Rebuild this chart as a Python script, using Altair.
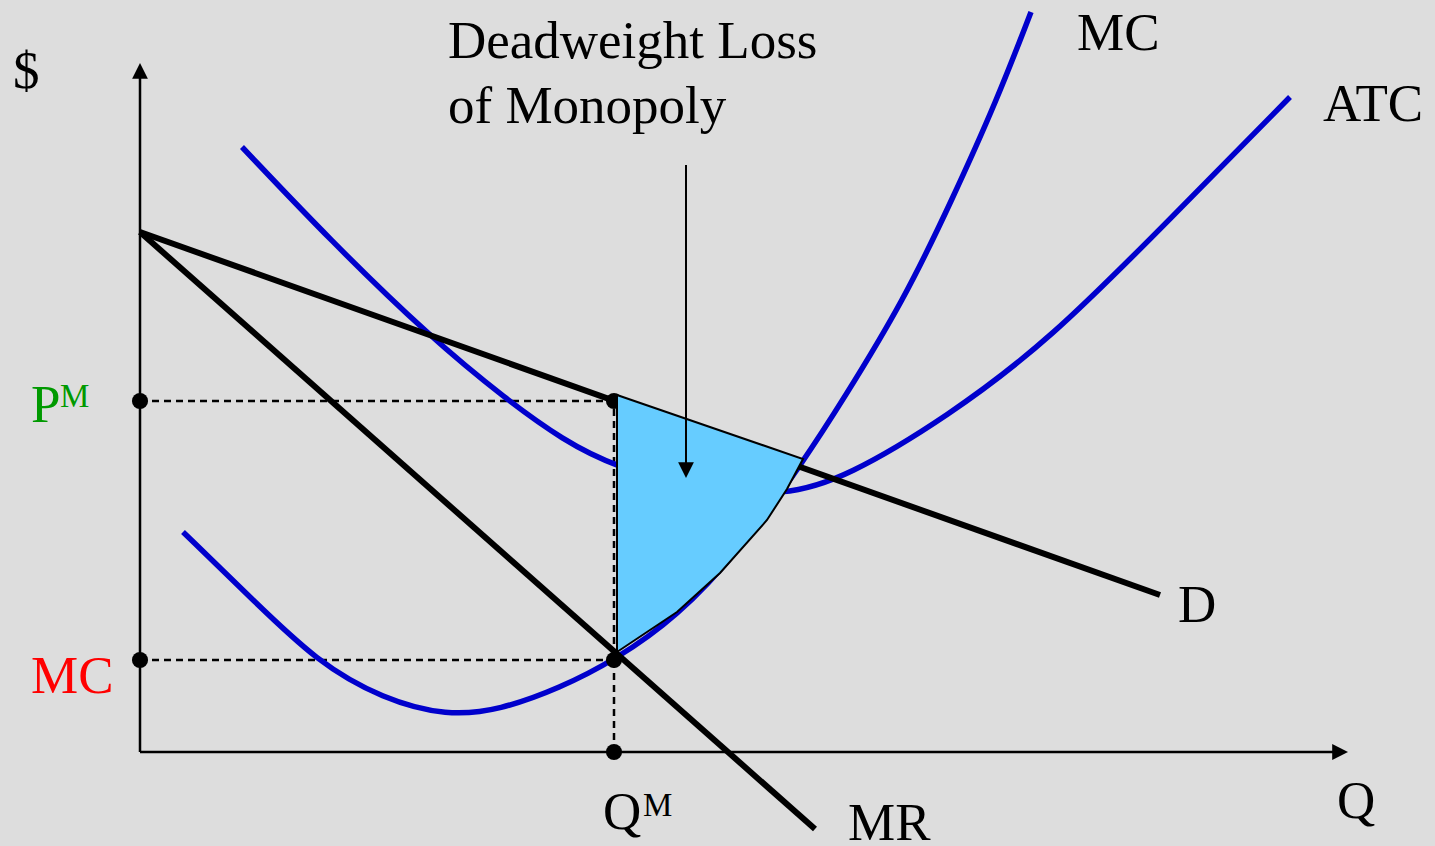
import altair as alt
import pandas as pd

# Quantity (Q) and price ($) readings for each curve
mc_q = [4.3, 11.0, 17.7, 24.3, 30.7, 36.0, 42.0, 47.5, 53.7, 60.0, 66.3, 70.3, 76.4, 81.2, 85.7, 89.1]
mc_p = [22.0, 15.5, 9.0, 5.3, 3.6, 4.2, 6.4, 9.2, 13.5, 20.2, 29.0, 35.2, 45.2, 55.2, 65.2, 74.0]

atc_q = [10.2, 19.0, 29.0, 36.7, 42.3, 47.5, 56.0, 64.5, 70.7, 80.7, 91.0, 103.0, 115.0]
atc_p = [60.5, 51.2, 41.5, 35.2, 31.2, 28.5, 26.2, 25.6, 27.5, 33.5, 41.2, 53.3, 65.5]

demand_q = [0.0, 102.0]
demand_p = [52.0, 15.7]

mr_q = [0.0, 67.5]
mr_p = [52.0, -7.7]

# Deadweight-loss region, traced as a closed outline
dwl_q = [47.7, 66.3, 64.7, 62.7, 58.0, 53.7, 47.7, 47.7]
dwl_p = [35.7, 29.3, 26.3, 23.2, 17.9, 14.0, 10.0, 35.7]

# Monopoly outcome
q_m = 47.4
p_m = 35.1
mc_m = 9.2

# Axis extents and the annotation arrow
y_axis_top = 68.2
x_axis_end = 119.5
arrow_q = 54.6
arrow_from = 58.7
arrow_to = 28.2
arrow_tip = 27.4

label_text = ["Deadweight Loss", "of Monopoly", "MC", "ATC", "D", "MR", "Q", "Q", "M",
              "$", "P", "M", "MC"]
label_q = [30.8, 30.8, 93.7, 118.3, 103.8, 70.8, 119.7, 46.3, 50.3, -12.7, -10.9, -8.0, -10.9]
label_p = [69.4, 62.9, 70.2, 63.1, 13.0, -8.8, -6.6, -7.7, -6.4, 66.4, 33.0, 34.5, 5.9]
label_size = [53, 53, 53, 53, 53, 53, 53, 53, 33, 53, 53, 33, 53]
label_color = ["black", "black", "black", "black", "black", "black", "black", "black", "black",
               "black", "#009900", "#009900", "#ff0000"]

BLUE = "#0000cc"
FONT = "Liberation Serif"

xs = alt.Scale(domain=[-14, 129.5], nice=False, zero=False)
ys = alt.Scale(domain=[-9.4, 75.2], nice=False, zero=False)


def X(field):
    return alt.X(field, type="quantitative", scale=xs, axis=None)


def Y(field):
    return alt.Y(field, type="quantitative", scale=ys, axis=None)


def curve_frame(name, qs, ps):
    return pd.DataFrame({"curve": name, "q": qs, "p": ps, "i": range(len(qs))})


cost_df = pd.concat([curve_frame("MC", mc_q, mc_p), curve_frame("ATC", atc_q, atc_p)])
rev_df = pd.concat([curve_frame("D", demand_q, demand_p), curve_frame("MR", mr_q, mr_p)])
dwl_df = curve_frame("DWL", dwl_q, dwl_p)

guide_df = pd.DataFrame({
    "q": [0.0, 0.0, q_m],
    "p": [p_m, mc_m, 0.0],
    "q2": [q_m, q_m, q_m],
    "p2": [p_m, mc_m, p_m],
})
axis_df = pd.DataFrame({
    "q": [0.0, 0.0],
    "p": [0.0, 0.0],
    "q2": [0.0, x_axis_end],
    "p2": [y_axis_top, 0.0],
})
arrow_df = pd.DataFrame({"q": [arrow_q], "p": [arrow_from], "q2": [arrow_q], "p2": [arrow_to]})
heads_df = pd.DataFrame({
    "q": [0.0, x_axis_end + 1.3, arrow_q],
    "p": [y_axis_top + 0.7, 0.0, arrow_tip],
    "shape": ["M0,0L0.5,1L-0.5,1Z", "M0,0L-1,0.5L-1,-0.5Z", "M0,0L0.5,-1L-0.5,-1Z"],
})
dots_df = pd.DataFrame({
    "q": [0.0, q_m, 0.0, q_m, q_m],
    "p": [p_m, p_m, mc_m, mc_m, 0.0],
})
labels_df = pd.DataFrame({
    "text": label_text, "q": label_q, "p": label_p,
    "size": label_size, "color": label_color,
})

guides = alt.Chart(guide_df).mark_rule(
    color="black", strokeWidth=2.5, strokeDash=[7, 5]
).encode(x=X("q"), y=Y("p"), x2="q2", y2="p2")

axes = alt.Chart(axis_df).mark_rule(color="black", strokeWidth=2.5).encode(
    x=X("q"), y=Y("p"), x2="q2", y2="p2"
)

cost = alt.Chart(cost_df).mark_line(
    color=BLUE, strokeWidth=5.5, interpolate="basis"
).encode(x=X("q"), y=Y("p"), detail="curve:N", order="i:Q")

revenue = alt.Chart(rev_df).mark_line(color="black", strokeWidth=6).encode(
    x=X("q"), y=Y("p"), detail="curve:N", order="i:Q"
)

dots = alt.Chart(dots_df).mark_circle(color="black", size=260, opacity=1).encode(
    x=X("q"), y=Y("p")
)

dwl = alt.Chart(dwl_df).mark_line(
    fill="#66ccff", stroke="black", strokeWidth=2, strokeJoin="miter"
).encode(x=X("q"), y=Y("p"), order="i:Q")

arrow = alt.Chart(arrow_df).mark_rule(color="black", strokeWidth=2).encode(
    x=X("q"), y=Y("p"), x2="q2", y2="p2"
)

heads = alt.Chart(heads_df).mark_point(
    filled=True, color="black", opacity=1, size=1000, strokeWidth=0
).encode(x=X("q"), y=Y("p"), shape=alt.Shape("shape:N", scale=None))

labels = alt.Chart(labels_df).mark_text(
    font=FONT, align="left", baseline="alphabetic"
).encode(
    x=X("q"), y=Y("p"), text="text:N",
    size=alt.Size("size:Q", scale=None),
    color=alt.Color("color:N", scale=None),
)

chart = alt.layer(
    guides, cost, revenue, axes, dots, dwl, arrow, heads, labels
).properties(
    width=1435, height=846, background="#dddddd", padding=0,
    autosize=alt.AutoSizeParams(type="none"),
).configure_view(stroke=None)

chart.save("out.html", embed_options={"renderer": "svg", "actions": False})
